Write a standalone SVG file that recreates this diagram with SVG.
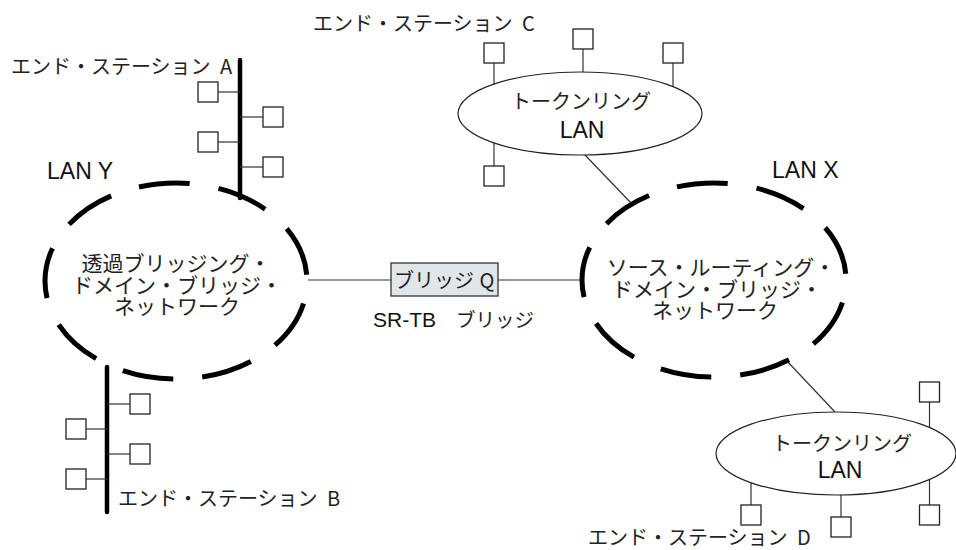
<svg xmlns="http://www.w3.org/2000/svg" width="956" height="550" viewBox="0 0 956 550">
<style>
.lan{fill:none;stroke:#000;stroke-width:5;stroke-dasharray:25.5 14.5;stroke-dashoffset:28.6}
.bus{stroke:#000;stroke-width:4.5;stroke-linecap:round}
.ln{stroke:#333;stroke-width:1.2;fill:none}
.st{fill:#fff;stroke:#222;stroke-width:1.3}
.tr{fill:#fff;stroke:#222;stroke-width:1.2}
.jp{font-family:"Noto Sans CJK JP","Noto Sans",sans-serif;fill:#222}
.lbl{font-size:20px}
.mid{font-size:21px;text-anchor:middle}
.en{font-family:"Liberation Sans","Noto Sans CJK JP",sans-serif;font-size:23px;fill:#111}
</style>
<rect width="956" height="550" fill="#fff"/>
<g id="connectors">
  <line class="ln" x1="308" y1="280" x2="391" y2="280"/>
  <line class="ln" x1="498" y1="280" x2="582" y2="280"/>
  <line class="ln" x1="585" y1="155" x2="631" y2="203"/>
  <line class="ln" x1="786" y1="360" x2="835" y2="412"/>
</g>
<g id="station-a">
  <line class="bus" x1="240" y1="60" x2="240" y2="198"/>
  <g class="ln"><line x1="218" y1="92" x2="240" y2="92"/><line x1="218" y1="142" x2="240" y2="142"/><line x1="240" y1="117" x2="263" y2="117"/><line x1="240" y1="167" x2="263" y2="167"/></g>
  <rect class="st" x="198" y="82" width="20" height="20"/>
  <rect class="st" x="198" y="132" width="20" height="20"/>
  <rect class="st" x="263" y="107" width="20" height="20"/>
  <rect class="st" x="263" y="157" width="20" height="20"/>
  <text class="jp lbl" x="11" y="74">エンド・ステーション <tspan dx="5">A</tspan></text>
</g>
<g id="station-b">
  <line class="bus" x1="107" y1="367" x2="107" y2="512"/>
  <g class="ln"><line x1="107" y1="404" x2="130" y2="404"/><line x1="107" y1="454" x2="130" y2="454"/><line x1="86" y1="429" x2="107" y2="429"/><line x1="86" y1="479" x2="107" y2="479"/></g>
  <rect class="st" x="130" y="394" width="20" height="20"/>
  <rect class="st" x="130" y="444" width="20" height="20"/>
  <rect class="st" x="66" y="419" width="20" height="20"/>
  <rect class="st" x="66" y="469" width="20" height="20"/>
  <text class="jp lbl" x="118" y="506">エンド・ステーション <tspan dx="5">B</tspan></text>
</g>
<g id="lan-y">
  <ellipse class="lan" cx="176" cy="281" rx="131" ry="98" pathLength="360"/>
  <text class="en" x="47" y="179">LAN Y</text>
  <text class="jp mid" x="176" y="271">透過ブリッジング・</text>
  <text class="jp mid" x="177" y="293">ドメイン・ブリッジ・</text>
  <text class="jp mid" x="177" y="314">ネットワーク</text>
</g>
<g id="bridge-q">
  <rect x="391" y="263" width="107" height="33" fill="#e1e6ea" stroke="#333" stroke-width="1.3"/>
  <text class="jp" x="394" y="288" font-size="20">ブリッジ <tspan dx="1">Q</tspan></text>
  <text class="en" y="327"><tspan x="373" style="font-size:21px">SR-TB</tspan><tspan class="jp" x="456" style="font-size:19.5px">ブリッジ</tspan></text>
</g>
<g id="lan-x">
  <ellipse class="lan" cx="714" cy="280" rx="132" ry="97" pathLength="360"/>
  <text class="en" x="772" y="178">LAN X</text>
  <text class="jp mid" x="721" y="275">ソース・ルーティング・</text>
  <text class="jp mid" x="717" y="297">ドメイン・ブリッジ・</text>
  <text class="jp mid" x="715" y="318">ネットワーク</text>
</g>
<g id="token-ring-c">
  <g class="ln"><line x1="494" y1="63" x2="494" y2="110"/><line x1="583" y1="49" x2="583" y2="110"/><line x1="673" y1="63" x2="673" y2="110"/><line x1="494" y1="120" x2="494" y2="166"/></g>
  <ellipse class="tr" cx="580" cy="113.5" rx="122" ry="41.5"/>
  <rect class="st" x="484" y="43" width="20" height="20"/>
  <rect class="st" x="573" y="29" width="20" height="20"/>
  <rect class="st" x="663" y="43" width="20" height="20"/>
  <rect class="st" x="484" y="166" width="20" height="20"/>
  <text class="jp" x="581" y="109" font-size="20" text-anchor="middle">トークンリング</text>
  <text class="en" x="582" y="138" text-anchor="middle">LAN</text>
  <text class="jp lbl" x="313" y="31">エンド・ステーション <tspan dx="5">C</tspan></text>
</g>
<g id="token-ring-d">
  <g class="ln"><line x1="929.5" y1="402" x2="929.5" y2="450"/><line x1="751" y1="460" x2="751" y2="505"/><line x1="841" y1="460" x2="841" y2="517"/><line x1="929.5" y1="460" x2="929.5" y2="505"/></g>
  <ellipse class="tr" cx="836" cy="453.5" rx="120" ry="41.5"/>
  <rect class="st" x="919.5" y="382" width="20" height="20"/>
  <rect class="st" x="741" y="505" width="20" height="20"/>
  <rect class="st" x="831" y="517" width="20" height="20"/>
  <rect class="st" x="919.5" y="505" width="20" height="20"/>
  <text class="jp" x="842" y="451" font-size="20" text-anchor="middle">トークンリング</text>
  <text class="en" x="840" y="478" text-anchor="middle">LAN</text>
  <text class="jp lbl" x="588" y="545">エンド・ステーション <tspan dx="5">D</tspan></text>
</g>
</svg>
